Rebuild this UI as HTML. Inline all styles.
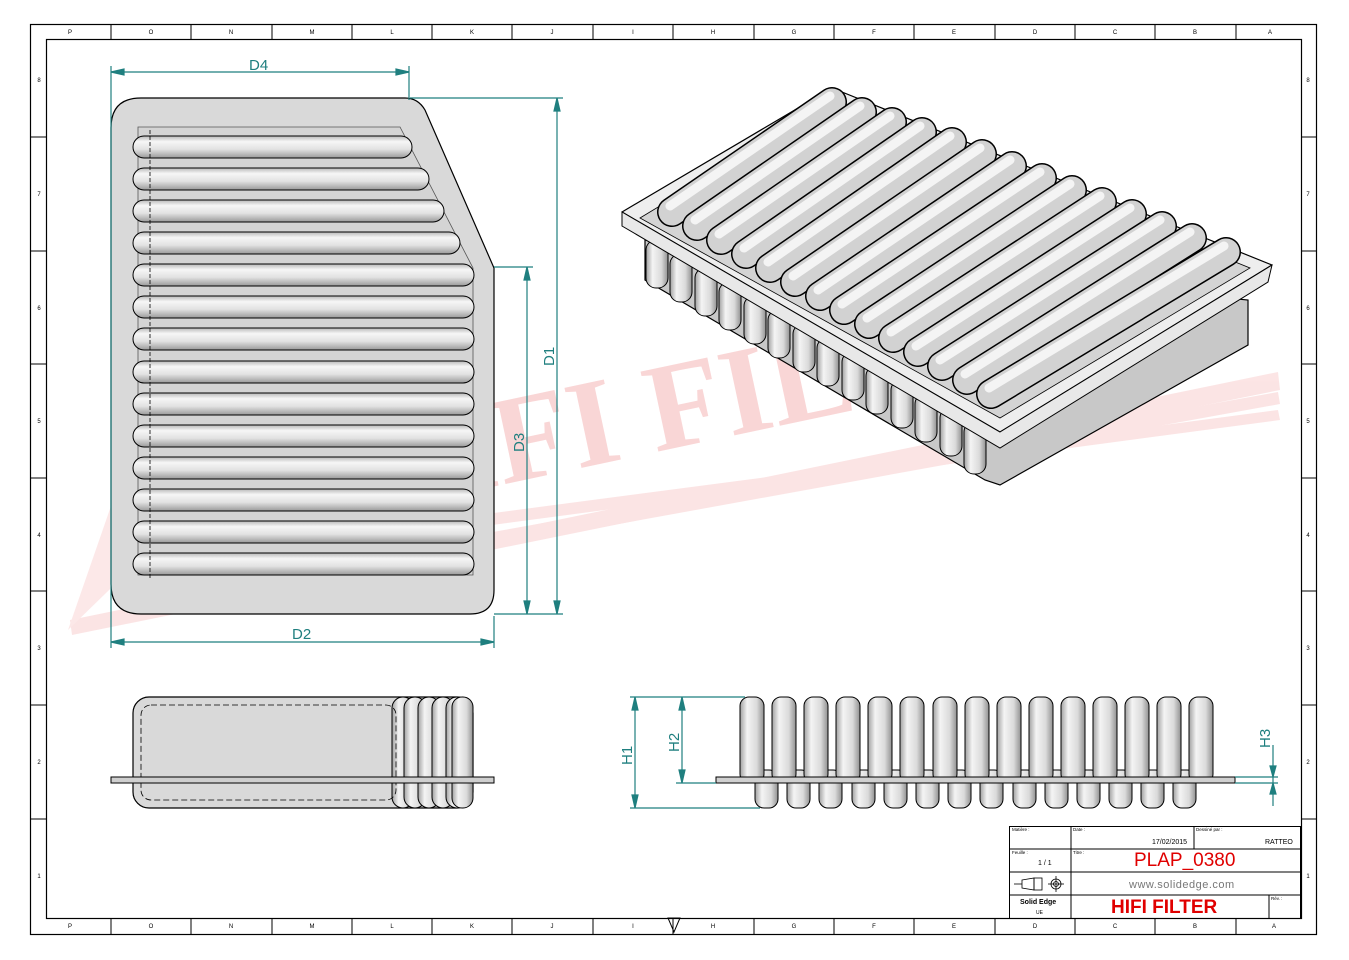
<!DOCTYPE html>
<html><head><meta charset="utf-8"><style>
html,body{margin:0;padding:0;background:#fff;}
svg{display:block;font-family:"Liberation Sans",sans-serif;}
</style></head><body>
<svg width="1349" height="960" viewBox="0 0 1349 960" xmlns="http://www.w3.org/2000/svg">
<defs>
<linearGradient id="rib" x1="0" y1="0" x2="0" y2="1">
<stop offset="0" stop-color="#b8b8b8"/><stop offset="0.25" stop-color="#f6f6f6"/><stop offset="0.6" stop-color="#e2e2e2"/><stop offset="1" stop-color="#9a9a9a"/>
</linearGradient>
<linearGradient id="fin" x1="0" y1="0" x2="1" y2="0">
<stop offset="0" stop-color="#a0a0a0"/><stop offset="0.3" stop-color="#f4f4f4"/><stop offset="0.7" stop-color="#dadada"/><stop offset="1" stop-color="#909090"/>
</linearGradient>
</defs>
<rect width="1349" height="960" fill="#fff"/>
<!-- watermark -->
<g opacity="0.35">
<polygon points="70,620 1278,372 1280,390 72,635" fill="#f6b4b4"/>
<polygon points="420,545 1278,392 1280,404 420,560" fill="#f6b4b4"/>
<polygon points="440,520 1278,410 1280,420 440,532" fill="#f6b4b4"/>
<polygon points="68,630 120,480 140,560" fill="#f8c0c0"/>
<text x="360" y="515" font-family="Liberation Serif,serif" font-weight="bold" font-size="125" fill="#f08c8c" transform="rotate(-12 360 515)">HIFI FILTER</text>
</g>
<!-- borders -->
<rect x="30.5" y="24.5" width="1286" height="910" fill="none" stroke="#000" stroke-width="1.2"/>
<rect x="46.5" y="39.5" width="1255" height="879" fill="none" stroke="#000" stroke-width="1.2"/>
<g stroke="#000" stroke-width="1">
<line x1="111" y1="25" x2="111" y2="39"/><line x1="191" y1="25" x2="191" y2="39"/><line x1="272" y1="25" x2="272" y2="39"/><line x1="352" y1="25" x2="352" y2="39"/><line x1="432" y1="25" x2="432" y2="39"/><line x1="512" y1="25" x2="512" y2="39"/><line x1="593" y1="25" x2="593" y2="39"/><line x1="673" y1="25" x2="673" y2="39"/><line x1="754" y1="25" x2="754" y2="39"/><line x1="834" y1="25" x2="834" y2="39"/><line x1="914" y1="25" x2="914" y2="39"/><line x1="995" y1="25" x2="995" y2="39"/><line x1="1075" y1="25" x2="1075" y2="39"/><line x1="1155" y1="25" x2="1155" y2="39"/><line x1="1236" y1="25" x2="1236" y2="39"/>
<line x1="111" y1="918" x2="111" y2="934"/><line x1="191" y1="918" x2="191" y2="934"/><line x1="272" y1="918" x2="272" y2="934"/><line x1="352" y1="918" x2="352" y2="934"/><line x1="432" y1="918" x2="432" y2="934"/><line x1="512" y1="918" x2="512" y2="934"/><line x1="593" y1="918" x2="593" y2="934"/><line x1="673" y1="918" x2="673" y2="934"/><line x1="754" y1="918" x2="754" y2="934"/><line x1="834" y1="918" x2="834" y2="934"/><line x1="914" y1="918" x2="914" y2="934"/><line x1="995" y1="918" x2="995" y2="934"/><line x1="1075" y1="918" x2="1075" y2="934"/><line x1="1155" y1="918" x2="1155" y2="934"/><line x1="1236" y1="918" x2="1236" y2="934"/>
<line x1="31" y1="137" x2="46" y2="137"/><line x1="31" y1="251" x2="46" y2="251"/><line x1="31" y1="364" x2="46" y2="364"/><line x1="31" y1="478" x2="46" y2="478"/><line x1="31" y1="591" x2="46" y2="591"/><line x1="31" y1="705" x2="46" y2="705"/><line x1="31" y1="819" x2="46" y2="819"/>
<line x1="1301" y1="137" x2="1316" y2="137"/><line x1="1301" y1="251" x2="1316" y2="251"/><line x1="1301" y1="364" x2="1316" y2="364"/><line x1="1301" y1="478" x2="1316" y2="478"/><line x1="1301" y1="591" x2="1316" y2="591"/><line x1="1301" y1="705" x2="1316" y2="705"/><line x1="1301" y1="819" x2="1316" y2="819"/>
</g>
<g font-size="6" fill="#000" text-anchor="middle">
<text x="70" y="34">P</text><text x="151" y="34">O</text><text x="231" y="34">N</text><text x="312" y="34">M</text><text x="392" y="34">L</text><text x="472" y="34">K</text><text x="552" y="34">J</text><text x="633" y="34">I</text><text x="713" y="34">H</text><text x="794" y="34">G</text><text x="874" y="34">F</text><text x="954" y="34">E</text><text x="1035" y="34">D</text><text x="1115" y="34">C</text><text x="1195" y="34">B</text><text x="1270" y="34">A</text>
<text x="70" y="928">P</text><text x="151" y="928">O</text><text x="231" y="928">N</text><text x="312" y="928">M</text><text x="392" y="928">L</text><text x="472" y="928">K</text><text x="552" y="928">J</text><text x="633" y="928">I</text><text x="713" y="928">H</text><text x="794" y="928">G</text><text x="874" y="928">F</text><text x="954" y="928">E</text><text x="1035" y="928">D</text><text x="1115" y="928">C</text><text x="1195" y="928">B</text><text x="1274" y="928">A</text>
<text x="39" y="82">8</text><text x="39" y="196">7</text><text x="39" y="310">6</text><text x="39" y="423">5</text><text x="39" y="537">4</text><text x="39" y="650">3</text><text x="39" y="764">2</text><text x="39" y="878">1</text>
<text x="1308" y="82">8</text><text x="1308" y="196">7</text><text x="1308" y="310">6</text><text x="1308" y="423">5</text><text x="1308" y="537">4</text><text x="1308" y="650">3</text><text x="1308" y="764">2</text><text x="1308" y="878">1</text>
</g>
<polygon points="668,918 680,918 674,932" fill="none" stroke="#000"/>

<!-- FRONT VIEW -->
<path d="M141,98 L405,98 Q418,98 425,110 L494,268 L494,590 Q494,614 470,614 L141,614 Q111,614 111,584 L111,128 Q111,98 141,98 Z" fill="#d9d9d9" stroke="#000" stroke-width="1.2"/>
<polygon points="138,127 400,127 473,268 473,575 138,575" fill="#d4d4d4" stroke="#555" stroke-width="0.8"/>
<g stroke="#000" stroke-width="1">
<rect x="133" y="136" width="279" height="22" rx="11" fill="url(#rib)"/>
<rect x="133" y="168" width="296" height="22" rx="11" fill="url(#rib)"/>
<rect x="133" y="200" width="311" height="22" rx="11" fill="url(#rib)"/>
<rect x="133" y="232" width="327" height="22" rx="11" fill="url(#rib)"/>
<rect x="133" y="264" width="341" height="22" rx="11" fill="url(#rib)"/>
<rect x="133" y="296" width="341" height="22" rx="11" fill="url(#rib)"/>
<rect x="133" y="328" width="341" height="22" rx="11" fill="url(#rib)"/>
<rect x="133" y="361" width="341" height="22" rx="11" fill="url(#rib)"/>
<rect x="133" y="393" width="341" height="22" rx="11" fill="url(#rib)"/>
<rect x="133" y="425" width="341" height="22" rx="11" fill="url(#rib)"/>
<rect x="133" y="457" width="341" height="22" rx="11" fill="url(#rib)"/>
<rect x="133" y="489" width="341" height="22" rx="11" fill="url(#rib)"/>
<rect x="133" y="521" width="341" height="22" rx="11" fill="url(#rib)"/>
<rect x="133" y="553" width="341" height="22" rx="11" fill="url(#rib)"/>
</g>
<g stroke="#000" stroke-width="0.8" stroke-dasharray="4,2">
<line x1="150" y1="130" x2="150" y2="580"/>
</g>
<!-- dims front -->
<g stroke="#1f7f7f" stroke-width="1.2" fill="#1f7f7f">
<line x1="111" y1="66" x2="111" y2="648"/>
<line x1="409" y1="66" x2="409" y2="100"/>
<line x1="111" y1="72" x2="409" y2="72"/>
<polygon points="111,72 124,69 124,75"/><polygon points="409,72 396,69 396,75"/>
<line x1="494" y1="616" x2="494" y2="648"/>
<line x1="111" y1="642" x2="494" y2="642"/>
<polygon points="111,642 124,639 124,645"/><polygon points="494,642 481,639 481,645"/>
<line x1="410" y1="98" x2="563" y2="98"/>
<line x1="494" y1="267" x2="533" y2="267"/>
<line x1="494" y1="614" x2="563" y2="614"/>
<line x1="527" y1="267" x2="527" y2="614"/>
<polygon points="527,267 524,280 530,280"/><polygon points="527,614 524,601 530,601"/>
<line x1="557" y1="98" x2="557" y2="614"/>
<polygon points="557,98 554,111 560,111"/><polygon points="557,614 554,601 560,601"/>
</g>
<g fill="#1f7f7f" font-size="15">
<text x="249" y="70">D4</text>
<text x="292" y="639">D2</text>
<text transform="translate(554,366) rotate(-90)">D1</text>
<text transform="translate(524,452) rotate(-90)">D3</text>
</g>

<!-- ISO VIEW -->
<g stroke="#000" stroke-width="1.2">
<polygon points="645,240 645,280 985,480 1000,485 1248,345 1248,300" fill="#c8c8c8"/>
<polygon points="622,212 832,88 1272,265 1000,432" fill="#eeeeee" stroke-linejoin="round"/>
<polygon points="640,218 835,100 1250,268 1000,418" fill="#d4d4d4" stroke-width="0.8"/>
</g>
<g stroke="#000" stroke-width="1" fill="url(#fin)">
<rect x="646" y="240" width="22" height="48" rx="10"/><rect x="670" y="254" width="22" height="48" rx="10"/><rect x="695" y="268" width="22" height="48" rx="10"/><rect x="719" y="282" width="22" height="48" rx="10"/><rect x="744" y="296" width="22" height="48" rx="10"/><rect x="768" y="310" width="22" height="48" rx="10"/><rect x="793" y="324" width="22" height="48" rx="10"/><rect x="817" y="338" width="22" height="48" rx="10"/><rect x="842" y="352" width="22" height="48" rx="10"/><rect x="866" y="366" width="22" height="48" rx="10"/><rect x="891" y="380" width="22" height="48" rx="10"/><rect x="915" y="394" width="22" height="48" rx="10"/><rect x="940" y="408" width="22" height="48" rx="10"/><rect x="964" y="422" width="22" height="52" rx="10"/>
</g>
<polygon points="1000,432 1272,265 1268,282 1000,448 622,226 622,212" fill="#e8e8e8" stroke="#000" stroke-width="1"/>
<g stroke-linecap="round">
<line x1="672" y1="212" x2="832" y2="102" stroke="#000" stroke-width="30"/><line x1="672" y1="212" x2="832" y2="102" stroke="#d2d2d2" stroke-width="27"/><line x1="670" y1="206" x2="830" y2="96" stroke="#f4f4f4" stroke-width="9"/>
<line x1="697" y1="226" x2="862" y2="112" stroke="#000" stroke-width="30"/><line x1="697" y1="226" x2="862" y2="112" stroke="#d2d2d2" stroke-width="27"/><line x1="695" y1="220" x2="860" y2="106" stroke="#f4f4f4" stroke-width="9"/>
<line x1="721" y1="240" x2="892" y2="122" stroke="#000" stroke-width="30"/><line x1="721" y1="240" x2="892" y2="122" stroke="#d2d2d2" stroke-width="27"/><line x1="719" y1="234" x2="890" y2="116" stroke="#f4f4f4" stroke-width="9"/>
<line x1="746" y1="254" x2="922" y2="132" stroke="#000" stroke-width="30"/><line x1="746" y1="254" x2="922" y2="132" stroke="#d2d2d2" stroke-width="27"/><line x1="744" y1="248" x2="920" y2="126" stroke="#f4f4f4" stroke-width="9"/>
<line x1="770" y1="268" x2="952" y2="142" stroke="#000" stroke-width="30"/><line x1="770" y1="268" x2="952" y2="142" stroke="#d2d2d2" stroke-width="27"/><line x1="768" y1="262" x2="950" y2="136" stroke="#f4f4f4" stroke-width="9"/>
<line x1="795" y1="282" x2="982" y2="154" stroke="#000" stroke-width="30"/><line x1="795" y1="282" x2="982" y2="154" stroke="#d2d2d2" stroke-width="27"/><line x1="793" y1="276" x2="980" y2="148" stroke="#f4f4f4" stroke-width="9"/>
<line x1="820" y1="296" x2="1012" y2="166" stroke="#000" stroke-width="30"/><line x1="820" y1="296" x2="1012" y2="166" stroke="#d2d2d2" stroke-width="27"/><line x1="818" y1="290" x2="1010" y2="160" stroke="#f4f4f4" stroke-width="9"/>
<line x1="844" y1="310" x2="1042" y2="178" stroke="#000" stroke-width="30"/><line x1="844" y1="310" x2="1042" y2="178" stroke="#d2d2d2" stroke-width="27"/><line x1="842" y1="304" x2="1040" y2="172" stroke="#f4f4f4" stroke-width="9"/>
<line x1="869" y1="324" x2="1072" y2="190" stroke="#000" stroke-width="30"/><line x1="869" y1="324" x2="1072" y2="190" stroke="#d2d2d2" stroke-width="27"/><line x1="867" y1="318" x2="1070" y2="184" stroke="#f4f4f4" stroke-width="9"/>
<line x1="893" y1="338" x2="1102" y2="202" stroke="#000" stroke-width="30"/><line x1="893" y1="338" x2="1102" y2="202" stroke="#d2d2d2" stroke-width="27"/><line x1="891" y1="332" x2="1100" y2="196" stroke="#f4f4f4" stroke-width="9"/>
<line x1="918" y1="352" x2="1132" y2="214" stroke="#000" stroke-width="30"/><line x1="918" y1="352" x2="1132" y2="214" stroke="#d2d2d2" stroke-width="27"/><line x1="916" y1="346" x2="1130" y2="208" stroke="#f4f4f4" stroke-width="9"/>
<line x1="942" y1="366" x2="1162" y2="226" stroke="#000" stroke-width="30"/><line x1="942" y1="366" x2="1162" y2="226" stroke="#d2d2d2" stroke-width="27"/><line x1="940" y1="360" x2="1160" y2="220" stroke="#f4f4f4" stroke-width="9"/>
<line x1="967" y1="380" x2="1192" y2="238" stroke="#000" stroke-width="30"/><line x1="967" y1="380" x2="1192" y2="238" stroke="#d2d2d2" stroke-width="27"/><line x1="965" y1="374" x2="1190" y2="232" stroke="#f4f4f4" stroke-width="9"/>
<line x1="991" y1="394" x2="1226" y2="252" stroke="#000" stroke-width="30"/><line x1="991" y1="394" x2="1226" y2="252" stroke="#d2d2d2" stroke-width="27"/><line x1="989" y1="388" x2="1224" y2="246" stroke="#f4f4f4" stroke-width="9"/>
</g>

<!-- SIDE VIEW LEFT -->
<rect x="133" y="697" width="340" height="111" rx="16" fill="#d9d9d9" stroke="#000" stroke-width="1.2"/>
<g stroke="#000" stroke-width="1" fill="url(#fin)">
<rect x="392" y="697" width="22" height="111" rx="11"/><rect x="404" y="697" width="22" height="111" rx="11"/><rect x="418" y="697" width="22" height="111" rx="11"/><rect x="432" y="697" width="22" height="111" rx="11"/><rect x="446" y="697" width="22" height="111" rx="11"/><rect x="452" y="697" width="21" height="111" rx="10"/>
</g>
<rect x="141" y="705" width="255" height="95" rx="10" fill="none" stroke="#000" stroke-width="0.8" stroke-dasharray="6,3"/>
<rect x="111" y="777" width="383" height="6" fill="#cfcfcf" stroke="#000" stroke-width="1"/>

<!-- SIDE VIEW RIGHT -->
<g stroke="#000" stroke-width="1" fill="url(#fin)">
<rect x="755" y="770" width="23" height="38" rx="9"/><rect x="787" y="770" width="23" height="38" rx="9"/><rect x="819" y="770" width="23" height="38" rx="9"/><rect x="852" y="770" width="23" height="38" rx="9"/><rect x="884" y="770" width="23" height="38" rx="9"/><rect x="916" y="770" width="23" height="38" rx="9"/><rect x="948" y="770" width="23" height="38" rx="9"/><rect x="980" y="770" width="23" height="38" rx="9"/><rect x="1013" y="770" width="23" height="38" rx="9"/><rect x="1045" y="770" width="23" height="38" rx="9"/><rect x="1077" y="770" width="23" height="38" rx="9"/><rect x="1109" y="770" width="23" height="38" rx="9"/><rect x="1141" y="770" width="23" height="38" rx="9"/><rect x="1173" y="770" width="23" height="38" rx="9"/>
<rect x="740" y="697" width="24" height="86" rx="9"/><rect x="772" y="697" width="24" height="86" rx="9"/><rect x="804" y="697" width="24" height="86" rx="9"/><rect x="836" y="697" width="24" height="86" rx="9"/><rect x="868" y="697" width="24" height="86" rx="9"/><rect x="900" y="697" width="24" height="86" rx="9"/><rect x="933" y="697" width="24" height="86" rx="9"/><rect x="965" y="697" width="24" height="86" rx="9"/><rect x="997" y="697" width="24" height="86" rx="9"/><rect x="1029" y="697" width="24" height="86" rx="9"/><rect x="1061" y="697" width="24" height="86" rx="9"/><rect x="1093" y="697" width="24" height="86" rx="9"/><rect x="1125" y="697" width="24" height="86" rx="9"/><rect x="1157" y="697" width="24" height="86" rx="9"/><rect x="1189" y="697" width="24" height="86" rx="9"/>
</g>
<rect x="716" y="777" width="519" height="6" fill="#d0d0d0" stroke="#000" stroke-width="1"/>
<g stroke="#1f7f7f" stroke-width="1.2" fill="#1f7f7f">
<line x1="630" y1="697" x2="745" y2="697"/>
<line x1="630" y1="808" x2="760" y2="808"/>
<line x1="676" y1="783" x2="716" y2="783"/>
<line x1="635" y1="697" x2="635" y2="808"/>
<polygon points="635,697 632,710 638,710"/><polygon points="635,808 632,795 638,795"/>
<line x1="682" y1="697" x2="682" y2="783"/>
<polygon points="682,697 679,710 685,710"/><polygon points="682,783 679,770 685,770"/>
<line x1="1235" y1="777" x2="1278" y2="777"/>
<line x1="1235" y1="783" x2="1278" y2="783"/>
<line x1="1273" y1="745" x2="1273" y2="806"/>
<polygon points="1273,777 1270,766 1276,766"/><polygon points="1273,783 1270,794 1276,794"/>
</g>
<g fill="#1f7f7f" font-size="15">
<text transform="translate(632,765) rotate(-90)">H1</text>
<text transform="translate(679,752) rotate(-90)">H2</text>
<text transform="translate(1270,748) rotate(-90)">H3</text>
</g>

<!-- TITLE BLOCK -->
<g stroke="#000" stroke-width="1" fill="none">
<rect x="1009.5" y="826.5" width="291" height="92"/>
<line x1="1009" y1="849" x2="1301" y2="849"/>
<line x1="1009" y1="872" x2="1301" y2="872"/>
<line x1="1009" y1="895" x2="1301" y2="895"/>
<line x1="1071" y1="826" x2="1071" y2="918"/>
<line x1="1194" y1="826" x2="1194" y2="849"/>
<line x1="1269" y1="895" x2="1269" y2="918"/>
</g>
<g font-size="4.5" fill="#000">
<text x="1012" y="831">Matière :</text><text x="1073" y="831">Date :</text><text x="1196" y="831">Dessiné par :</text>
<text x="1012" y="854">Feuille :</text><text x="1073" y="854">Titre :</text><text x="1271" y="900">Rév. :</text>
</g>
<text x="1152" y="844" font-size="7" fill="#000">17/02/2015</text>
<text x="1265" y="844" font-size="7" fill="#000">RATTEO</text>
<text x="1038" y="865" font-size="7" fill="#000">1 / 1</text>
<text x="1134" y="866" font-size="19" fill="#e00000">PLAP_0380</text>
<text x="1129" y="888" font-size="11" fill="#777" letter-spacing="0.5">www.solidedge.com</text>
<text x="1111" y="913" font-size="19" font-weight="bold" fill="#e00000">HIFI FILTER</text>
<text x="1020" y="904" font-size="7" font-weight="bold" fill="#000">Solid Edge</text>
<text x="1036" y="914" font-size="5" fill="#000">UE</text>
<g stroke="#000" stroke-width="0.8" fill="none">
<line x1="1014" y1="884" x2="1022" y2="884"/>
<polygon points="1022,880 1034,878 1034,890 1022,888"/>
<rect x="1034" y="878" width="8" height="12"/>
<circle cx="1056" cy="884" r="5"/><circle cx="1056" cy="884" r="2.5"/>
<line x1="1048" y1="884" x2="1064" y2="884"/><line x1="1056" y1="876" x2="1056" y2="892"/>
</g>
</svg>
</body></html>
